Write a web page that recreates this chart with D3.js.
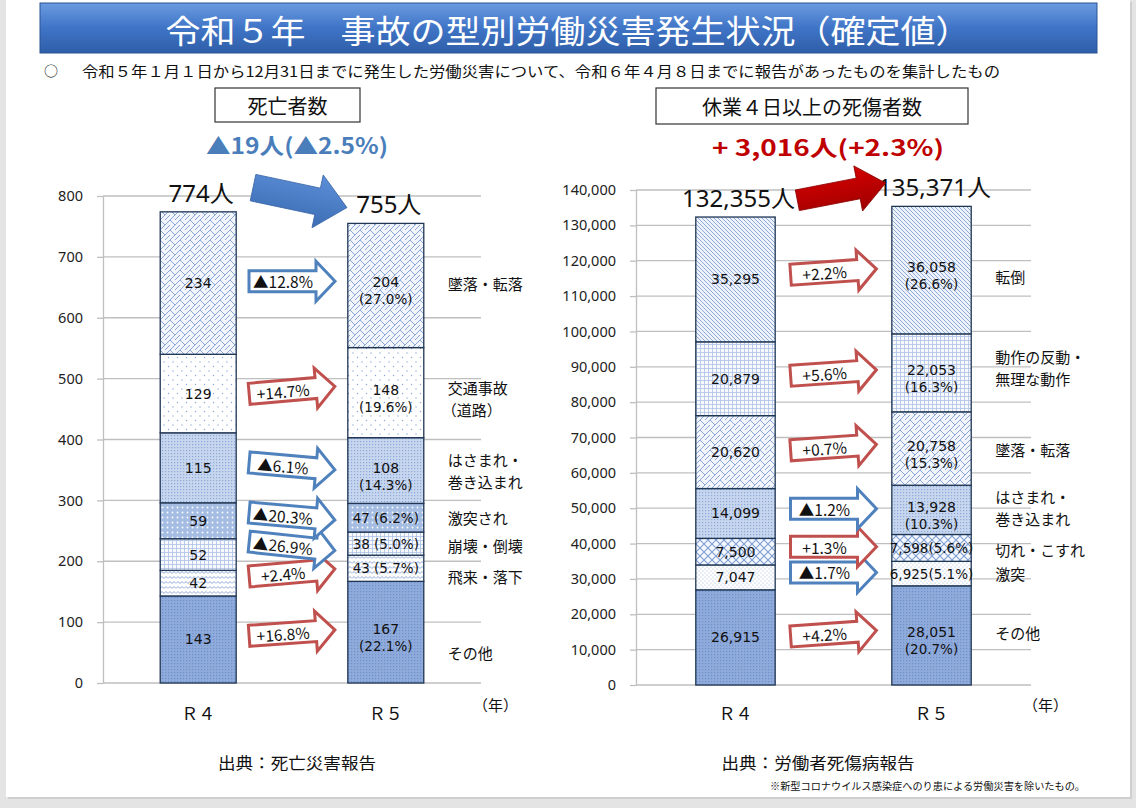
<!DOCTYPE html>
<html><head><meta charset="utf-8">
<script src="https://cdn.jsdelivr.net/npm/d3@7"></script>
<style>body{margin:0;background:#e4e4e4;} svg{display:block}</style>
</head><body>
<svg id="c" width="1136" height="808"></svg>
<script>
// ---------- DATA ----------
const years = ["R4", "R5"];
const yearLabels = ["Ｒ４", "Ｒ５"];

const deathCats = ["その他", "飛来・落下", "崩壊・倒壊", "激突され", "はさまれ・\n巻き込まれ", "交通事故\n（道路）", "墜落・転落"];
const deathR4 = [143, 42, 52, 59, 115, 129, 234];
const deathR5 = [167, 43, 38, 47, 108, 148, 204];
const deathShare = ["22.1%", "5.7%", "5.0%", "6.2%", "14.3%", "19.6%", "27.0%"];
const deathChange = ["+16.8%", "+2.4%", "▲26.9%", "▲20.3%", "▲6.1%", "+14.7%", "▲12.8%"];
const deathTotals = [774, 755];
const deathTicks = [0, 100, 200, 300, 400, 500, 600, 700, 800];

const injCats = ["その他", "激突", "切れ・こすれ", "はさまれ・\n巻き込まれ", "墜落・転落", "動作の反動・\n無理な動作", "転倒"];
const injR4 = [26915, 7047, 7500, 14099, 20620, 20879, 35295];
const injR5 = [28051, 6925, 7598, 13928, 20758, 22053, 36058];
const injShare = ["20.7%", "5.1%", "5.6%", "10.3%", "15.3%", "16.3%", "26.6%"];
const injChange = ["+4.2%", "▲1.7%", "+1.3%", "▲1.2%", "+0.7%", "+5.6%", "+2.2%"];
const injTotals = [132355, 135371];
const injTicks = [0, 10000, 20000, 30000, 40000, 50000, 60000, 70000, 80000, 90000, 100000, 110000, 120000, 130000, 140000];

// ---------- STYLE CONFIG ----------
const deathPatterns = ["darkFine", "wave", "grid", "whiteDots", "fineBlue", "sparseDots", "brick"];
const injPatterns = ["darkFine", "lightDots", "diamond", "fineBlue", "brick", "grid", "diag"];
const deathTilt = [-4, -5, 6, 5, 5, -5, 0];
const injTilt = [-4, 0, 0, 0, -4, -4, -4];
const deathLabelShift = [20, 8, 2, 0, 0, 6, -2];
const injLabelShift = [-3, 0, 2, -2, 1, -5, 6];

const JP = "'Noto Sans CJK JP', 'Noto Sans', sans-serif";
const NUM = "'Noto Sans', 'Noto Sans CJK JP', sans-serif";
const DV = "'DejaVu Sans', 'Noto Sans', sans-serif";
const BLUE = "#4f81bd", RED = "#c0504d";

const svg = d3.select("#c");
const defs = svg.append("defs");

// page
svg.append("rect").attr("x", 8).attr("y", 2).attr("width", 1124).attr("height", 797).attr("fill", "#cfcfcf");
svg.append("rect").attr("x", 6).attr("y", 0).attr("width", 1124).attr("height", 797).attr("fill", "#fff");

// patterns
function pat(id, w, h, bg, draw) {
  const p = defs.append("pattern").attr("id", id).attr("patternUnits", "userSpaceOnUse").attr("width", w).attr("height", h);
  p.append("rect").attr("width", w).attr("height", h).attr("fill", bg);
  draw(p);
}
pat("brick", 10, 10, "#f2f5fb", p => p.append("path").attr("d", "M0,10L10,0M-1,1L1,-1M9,11L11,9M0,0L5,5M5,10L10,5").attr("stroke", "#7e9dd1").attr("stroke-width", 0.9).attr("fill", "none"));
pat("sparseDots", 9, 9, "#ffffff", p => { p.append("circle").attr("cx", 2).attr("cy", 2).attr("r", 0.7).attr("fill", "#8aa6d6"); p.append("circle").attr("cx", 6.5).attr("cy", 6.5).attr("r", 0.7).attr("fill", "#8aa6d6"); });
pat("fineBlue", 3, 3, "#c6d6ee", p => p.append("rect").attr("width", 1.2).attr("height", 1.2).attr("fill", "#8ea9d9"));
pat("whiteDots", 5, 5, "#a5bde3", p => p.append("circle").attr("cx", 2.5).attr("cy", 2.5).attr("r", 0.9).attr("fill", "#ffffff"));
pat("grid", 4, 4, "#f7f9fd", p => p.append("path").attr("d", "M0,0.5H4M0.5,0V4").attr("stroke", "#adc2e6").attr("stroke-width", 0.8));
pat("wave", 8, 5, "#ffffff", p => p.append("path").attr("d", "M0,3.5L2,1.5L4,3.5L6,1.5L8,3.5").attr("stroke", "#7f9ed3").attr("stroke-width", 0.9).attr("fill", "none"));
pat("darkFine", 3, 3, "#8fabdc", p => p.append("rect").attr("width", 1.2).attr("height", 1.2).attr("fill", "#6f8fc8"));
pat("diag", 4, 4, "#eef3fb", p => p.append("path").attr("d", "M0,0L4,4M-1,3L1,5M3,-1L5,1").attr("stroke", "#86a3d5").attr("stroke-width", 0.9));
pat("diamond", 8, 8, "#f4f7fc", p => p.append("path").attr("d", "M0,0L8,8M8,0L0,8").attr("stroke", "#7f9ed3").attr("stroke-width", 1.1));
pat("lightDots", 4, 4, "#ffffff", p => { p.append("circle").attr("cx", 1).attr("cy", 1).attr("r", 0.6).attr("fill", "#9db5de"); p.append("circle").attr("cx", 3).attr("cy", 3).attr("r", 0.6).attr("fill", "#9db5de"); });

// gradients
function grad(id, stops, x2, y2) {
  const g = defs.append("linearGradient").attr("id", id).attr("x1", 0).attr("y1", 0).attr("x2", x2).attr("y2", y2);
  stops.forEach(s => g.append("stop").attr("offset", s[0]).attr("stop-color", s[1]));
}
grad("titleG", [[0, "#6b9be0"], [0.5, "#3f74c6"], [1, "#2f5ea8"]], 0, 1);
grad("blueArrowG", [[0, "#5b8fd8"], [1, "#3c6db4"]], 0, 1);
grad("redArrowG", [[0, "#d40000"], [1, "#9e0000"]], 0, 1);

// title
svg.append("rect").attr("x", 40).attr("y", 3).attr("width", 1057).attr("height", 50).attr("fill", "url(#titleG)").attr("stroke", "#2a5293").attr("stroke-width", 1);
svg.append("text").attr("x", 568).attr("y", 29).attr("text-anchor", "middle").attr("dominant-baseline", "central")
  .attr("fill", "#fff").attr("font-family", JP).attr("font-size", 32).attr("textLength", 805).attr("lengthAdjust", "spacingAndGlyphs")
  .text("令和５年　事故の型別労働災害発生状況（確定値）");
svg.append("text").attr("x", 44).attr("y", 70).attr("dominant-baseline", "central").attr("font-family", JP).attr("font-size", 14).attr("fill", "#111").text("○");
svg.append("text").attr("x", 82).attr("y", 70).attr("dominant-baseline", "central").attr("font-family", JP).attr("font-size", 14.5).attr("fill", "#111")
  .attr("textLength", 918).attr("lengthAdjust", "spacingAndGlyphs")
  .text("令和５年１月１日から12月31日までに発生した労働災害について、令和６年４月８日までに報告があったものを集計したもの");

function arrowPath(L, h, H, hl) {
  const a = -L / 2, b = L / 2 - hl, c = L / 2;
  return `M${a},${-h / 2}L${b},${-h / 2}L${b},${-H / 2}L${c},0L${b},${H / 2}L${b},${h / 2}L${a},${h / 2}Z`;
}

function drawChart(cfg) {
  const g = svg.append("g");
  const y = d3.scaleLinear().domain([0, cfg.max]).range([cfg.y0, cfg.y1]);
  const x = d3.scaleBand().domain(years).range([cfg.xa, cfg.xb]).paddingInner(0.595).paddingOuter(0.305);

  g.selectAll("line.grid").data(cfg.ticks).join("line").attr("class", "grid")
    .attr("x1", cfg.xa).attr("x2", cfg.xb).attr("y1", d => y(d)).attr("y2", d => y(d))
    .attr("stroke", "#bfbfbf").attr("stroke-width", 1.3);

  const ax = g.append("g").attr("transform", `translate(${cfg.xa},0)`)
    .call(d3.axisLeft(y).tickValues(cfg.ticks).tickFormat(cfg.fmt).tickSize(6).tickSizeOuter(0).tickPadding(cfg.pad));
  ax.select(".domain").attr("stroke", "#bfbfbf").attr("stroke-width", 1.3);
  ax.selectAll(".tick line").attr("stroke", "#bfbfbf").attr("stroke-width", 1.3);
  ax.selectAll(".tick text").attr("font-family", NUM).attr("font-size", 14.5).attr("fill", "#222");

  const rows = years.map((yr, j) => { const o = { year: yr }; cfg.cats.forEach((c, i) => o[c] = cfg.vals[j][i]); return o; });
  const series = d3.stack().keys(cfg.cats)(rows);

  series.forEach((s, i) => {
    s.forEach((d, j) => {
      g.append("rect").attr("x", x(years[j])).attr("width", x.bandwidth())
        .attr("y", y(d[1])).attr("height", y(d[0]) - y(d[1]))
        .attr("fill", `url(#${cfg.patterns[i]})`).attr("stroke", "#1f3654").attr("stroke-width", 1.3);
    });
  });

  const lbl = (xx, yy, txt, size) => g.append("text").attr("x", xx).attr("y", yy).attr("text-anchor", "middle").attr("dominant-baseline", "central")
    .attr("font-family", DV).attr("font-size", size).attr("fill", "#111").text(txt);

  series.forEach((s, i) => {
    s.forEach((d, j) => {
      const cx = x(years[j]) + x.bandwidth() / 2;
      const mid = (y(d[0]) + y(d[1])) / 2;
      const hgt = y(d[0]) - y(d[1]);
      const v = cfg.fmt(cfg.vals[j][i]);
      if (j === 0) lbl(cx, mid, v, 14);
      else if (hgt > 40) {
        lbl(cx, mid - 3, v, 14);
        lbl(cx, mid + 14, `(${cfg.share[i]})`, 13.5);
      } else {
        lbl(cx, mid, `${v}${cfg.sep}(${cfg.share[i]})`, 13.5);
      }
    });
    // category label
    const d5 = s[1];
    const mid5 = (y(d5[0]) + y(d5[1])) / 2 + cfg.labelShift[i];
    const lines = cfg.cats[i].split("\n");
    const lx = x("R5") + x.bandwidth() + 24;
    lines.forEach((ln, k) => {
      g.append("text").attr("x", lx + (ln.startsWith("（") ? -6 : 0)).attr("y", mid5 + (k - (lines.length - 1) / 2) * 22)
        .attr("dominant-baseline", "central").attr("font-family", JP).attr("font-size", 15).attr("fill", "#111").text(ln);
    });
    // change arrow
    const d4 = s[0];
    const mid4 = (y(d4[0]) + y(d4[1])) / 2;
    const ay = (mid4 + (y(d5[0]) + y(d5[1])) / 2) / 2 - 3;
    const axc = (x("R4") + x.bandwidth() + x("R5")) / 2;
    const col = cfg.change[i].startsWith("▲") ? BLUE : RED;
    const ag = g.append("g").attr("transform", `translate(${axc},${ay}) rotate(${cfg.tilt[i]})`);
    ag.append("path").attr("d", arrowPath(86, 21, 40, 19)).attr("fill", "#fff").attr("stroke", col).attr("stroke-width", 3).attr("stroke-linejoin", "miter");
    ag.append("text").attr("x", -9).attr("y", 0).attr("text-anchor", "middle").attr("dominant-baseline", "central")
      .attr("font-family", JP).attr("font-size", 15.5).attr("fill", "#111").text(cfg.change[i]);
  });

  years.forEach((yr, j) => {
    g.append("text").attr("x", x(yr) + x.bandwidth() / 2).attr("y", 712).attr("text-anchor", "middle").attr("dominant-baseline", "central")
      .attr("font-family", JP).attr("font-size", 17).attr("fill", "#111").text(yearLabels[j]);
  });
  g.append("text").attr("x", cfg.xb - 8).attr("y", 704).attr("dominant-baseline", "central")
    .attr("font-family", JP).attr("font-size", 15).attr("fill", "#111").text("（年）");

  const tops = cfg.totals.map(v => y(v) - 10);
  cfg.totals.forEach((v, j) => {
    g.append("text").attr("x", x(years[j]) + x.bandwidth() / 2 + 3).attr("y", tops[j]).attr("text-anchor", "middle")
      .attr("font-family", NUM).attr("font-size", 24).attr("fill", "#111").text(cfg.fmt(v) + "人");
  });
  const bx = (x("R4") + x("R5") + x.bandwidth()) / 2 + 8;
  const by = (tops[0] + tops[1]) / 2 - 10;
  const up = cfg.totals[1] > cfg.totals[0];
  g.append("path").attr("transform", `translate(${bx},${by}) rotate(${up ? -11 : 12})`)
    .attr("d", up ? arrowPath(90, 21, 46, 28) : arrowPath(96, 27, 54, 30))
    .attr("fill", up ? "url(#redArrowG)" : "url(#blueArrowG)").attr("stroke", up ? "#8a0000" : "#3a66a8").attr("stroke-width", 0.8);

  g.append("rect").attr("x", cfg.box[0]).attr("y", cfg.box[1]).attr("width", cfg.box[2]).attr("height", cfg.box[3])
    .attr("fill", "#fff").attr("stroke", "#333").attr("stroke-width", 1.2);
  g.append("text").attr("x", cfg.box[0] + cfg.box[2] / 2).attr("y", cfg.box[1] + cfg.box[3] / 2).attr("text-anchor", "middle")
    .attr("dominant-baseline", "central").attr("font-family", JP).attr("font-size", 20).attr("fill", "#111").text(cfg.title);

  const diff = cfg.totals[1] - cfg.totals[0];
  const pct = Math.abs(diff) / cfg.totals[0] * 100;
  const summary = diff < 0
    ? `▲${d3.format(",")(-diff)}人(▲${pct.toFixed(1)}%)`
    : `+ ${d3.format(",")(diff)}人(+${pct.toFixed(1)}%)`;
  g.append("text").attr("x", cfg.sumX).attr("y", cfg.box[1] + cfg.box[3] + 22).attr("text-anchor", "middle").attr("dominant-baseline", "central")
    .attr("font-family", JP).attr("font-weight", "bold").attr("font-size", 22).attr("fill", diff < 0 ? "#4a7ebb" : "#c00000")
    .attr("textLength", cfg.sumW).attr("lengthAdjust", "spacingAndGlyphs").text(summary);

  g.append("text").attr("x", cfg.srcX).attr("y", 762).attr("text-anchor", "middle").attr("dominant-baseline", "central")
    .attr("font-family", JP).attr("font-size", 16).attr("fill", "#111")
    .attr("textLength", cfg.srcW).attr("lengthAdjust", "spacingAndGlyphs").text(cfg.source);
}

drawChart({
  cats: deathCats, vals: [deathR4, deathR5], share: deathShare, change: deathChange, totals: deathTotals,
  ticks: deathTicks, max: 800, y0: 683, y1: 196, xa: 103, xb: 481, pad: 14, fmt: d3.format(","), sep: " ",
  patterns: deathPatterns, tilt: deathTilt, labelShift: deathLabelShift, box: [215, 88, 145, 34], title: "死亡者数", sumX: 297, sumW: 182,
  source: "出典：死亡災害報告", srcX: 297, srcW: 158
});
drawChart({
  cats: injCats, vals: [injR4, injR5], share: injShare, change: injChange, totals: injTotals,
  ticks: injTicks, max: 140000, y0: 685, y1: 190, xa: 636, xb: 1031, pad: 14, fmt: d3.format(","), sep: "",
  patterns: injPatterns, tilt: injTilt, labelShift: injLabelShift, box: [656, 88, 312, 36], title: "休業４日以上の死傷者数", sumX: 828, sumW: 232,
  source: "出典：労働者死傷病報告", srcX: 818, srcW: 193
});

svg.append("text").attr("x", 1085).attr("y", 785).attr("text-anchor", "end").attr("dominant-baseline", "central")
  .attr("font-family", JP).attr("font-size", 10).attr("fill", "#111").attr("textLength", 315).attr("lengthAdjust", "spacingAndGlyphs")
  .text("※新型コロナウイルス感染症へのり患による労働災害を除いたもの。");
</script>
</body></html>
